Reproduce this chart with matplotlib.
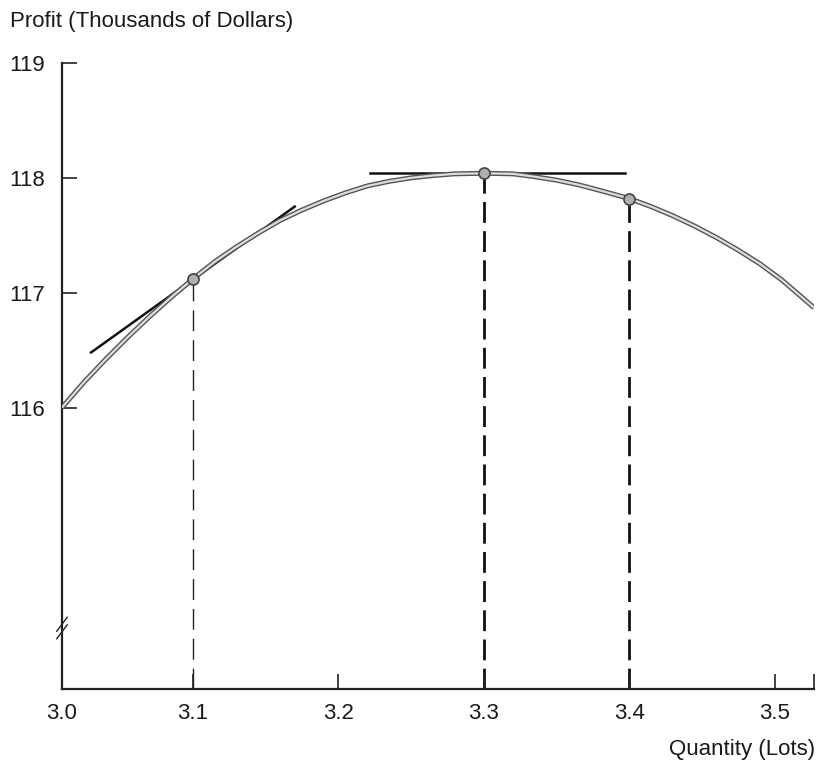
import matplotlib.pyplot as plt

plt.rcParams['font.family'] = ['Liberation Sans', 'DejaVu Sans']

# profit curve (quantity in lots, profit in $1000s)
quantity = [3.010, 3.025, 3.040, 3.055, 3.070, 3.085, 3.100, 3.115, 3.130,
            3.145, 3.160, 3.175, 3.190, 3.205, 3.220, 3.235, 3.250, 3.265,
            3.280, 3.300, 3.320, 3.335, 3.350, 3.365, 3.380, 3.400, 3.415,
            3.430, 3.445, 3.460, 3.475, 3.490, 3.505, 3.527]
profit = [116.00, 116.22, 116.42, 116.61, 116.79, 116.96, 117.12, 117.27, 117.40,
          117.52, 117.63, 117.72, 117.80, 117.87, 117.93, 117.97, 118.00, 118.02,
          118.035, 118.04, 118.035, 118.01, 117.98, 117.94, 117.89, 117.82, 117.75,
          117.67, 117.58, 117.48, 117.37, 117.25, 117.11, 116.87]

# marked points
point_q = [3.1, 3.3, 3.4]
point_p = [117.12, 118.04, 117.82]

# tangent lines (endpoints)
tangent1_q = [3.030, 3.170]
tangent1_p = [116.48, 117.75]
tangent2_q = [3.222, 3.397]
tangent2_p = [118.04, 118.04]

x_ticks = [3.1, 3.2, 3.3, 3.4, 3.5]
x_labels = ['3.1', '3.2', '3.3', '3.4', '3.5']
y_ticks = [116, 117, 118, 119]
y_labels = ['116', '117', '118', '119']

x_min, x_max = 3.010, 3.527
y_min, y_max = 113.55, 119.0

fig = plt.figure(figsize=(8.17, 7.62), dpi=100)
ax = fig.add_axes([62 / 817, 73 / 762, 752 / 817, 626 / 762])
ax.set_xlim(x_min, x_max)
ax.set_ylim(y_min, y_max)

for side in ['top', 'right']:
    ax.spines[side].set_visible(False)
for side in ['left', 'bottom']:
    ax.spines[side].set_linewidth(1.6)
    ax.spines[side].set_color('#222222')

# curve drawn as a hollow tube like the printed figure
ax.plot(quantity, profit, color='#555555', lw=3.6, solid_capstyle='butt',
        solid_joinstyle='round', zorder=3)
ax.plot(quantity, profit, color='#dddddd', lw=1.6, solid_capstyle='butt',
        solid_joinstyle='round', zorder=4)

# tangents
ax.plot(tangent1_q, tangent1_p, color='#111111', lw=1.8, zorder=2)
ax.plot(tangent2_q, tangent2_p, color='#111111', lw=1.8, zorder=2)

# dashed drop lines
ax.plot([point_q[0], point_q[0]], [y_min, point_p[0]], color='#222222',
        lw=1.0, dashes=(15, 6.5), zorder=1)
for q, p in zip(point_q[1:], point_p[1:]):
    ax.plot([q, q], [y_min, p], color='#111111', lw=2.0, dashes=(7.5, 3), zorder=1)

ax.plot(point_q, point_p, 'o', ms=8, mfc='#b0b0b0', mec='#444444', mew=1.2, zorder=5)

# ticks
ax.set_xticks(x_ticks + [x_min, x_max])
ax.set_xticklabels(x_labels + ['3.0', ''])
ax.set_yticks(y_ticks)
ax.set_yticklabels(y_labels)
ax.tick_params(axis='both', direction='in', length=11, width=1.2, colors='#222222',
               labelsize=16, labelcolor='#1a1a1a')
ax.tick_params(axis='x', pad=10)
ax.tick_params(axis='y', pad=12)

# axis break mark
d = 0.007
for off in (-0.006, 0.006):
    yb = 1 - (628 - 63) / 626 + off
    ax.plot([-d, d], [yb - 1.6 * d, yb + 1.6 * d], transform=ax.transAxes,
            color='#222222', lw=1.0, clip_on=False, zorder=6)

fig.text(10 / 817, 1 - 22 / 762, 'Profit (Thousands of Dollars)', fontsize=16,
         va='center', ha='left', color='#1a1a1a')
fig.text(815 / 817, 1 - 749 / 762, 'Quantity (Lots)', fontsize=16,
         va='center', ha='right', color='#1a1a1a')

fig.savefig('out.png', dpi=100)
